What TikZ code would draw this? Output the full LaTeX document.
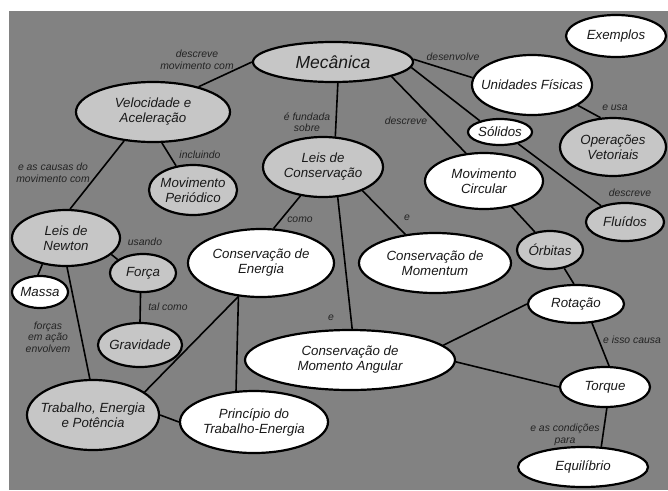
\documentclass[tikz,border=0pt]{standalone}
\usepackage{fontspec}
\setmainfont{Liberation Sans}
\usetikzlibrary{shapes.geometric}
\definecolor{bggray}{RGB}{130,130,130}
\definecolor{lgray}{RGB}{198,198,198}
\definecolor{ntext}{RGB}{25,25,25}
\definecolor{etext}{RGB}{35,35,35}
\tikzset{
  concept/.style={ellipse, draw=black, line width=2.2pt, inner sep=-10pt, align=center,
    text=ntext, font=\fontsize{13.3}{15}\selectfont\itshape},
  wnode/.style={concept, fill=white},
  gnode/.style={concept, fill=lgray},
  elabel/.style={align=center, text=etext, inner sep=0pt, font=\fontsize{10.4}{11.5}\selectfont\itshape},
  conn/.style={line width=1.6pt, draw=black}
}
\begin{document}
\begin{tikzpicture}[x=1pt,y=-1pt]
\useasboundingbox (0,0) rectangle (668,490);
\fill[white] (0,0) rectangle (668,490);
\fill[bggray] (9,11) rectangle (668,490);

% nodes
\node[gnode, minimum width=160pt, minimum height=40pt, font=\fontsize{17.5}{20}\selectfont\itshape] (mec) at (333,62) {Mecânica};
\node[wnode, minimum width=100pt, minimum height=42pt] (ex) at (616,36) {Exemplos};
\node[wnode, minimum width=120pt, minimum height=60pt] (uf) at (532,85) {Unidades Físicas};
\node[wnode, minimum width=64pt, minimum height=26pt] (sol) at (500,132) {Sólidos};
\node[gnode, minimum width=106pt, minimum height=58pt] (ov) at (613,147) {Operações\\Vetoriais};
\node[gnode, minimum width=78pt, minimum height=38pt] (flu) at (625,222) {Fluídos};
\node[wnode, minimum width=118pt, minimum height=56pt] (mc) at (484,181) {Movimento\\Circular};
\node[gnode, minimum width=66pt, minimum height=38pt] (orb) at (550,250) {Órbitas};
\node[wnode, minimum width=96pt, minimum height=38pt] (rot) at (576,304) {Rotação};
\node[wnode, minimum width=90pt, minimum height=40pt] (tor) at (605,387) {Torque};
\node[wnode, minimum width=130pt, minimum height=40pt] (equ) at (583,467) {Equilíbrio};
\node[wnode, minimum width=210pt, minimum height=60pt] (cma) at (350,360) {Conservação de\\Momento Angular};
\node[wnode, minimum width=152pt, minimum height=60pt] (cm) at (435,263) {Conservação de\\Momentum};
\node[gnode, minimum width=120pt, minimum height=60pt] (lc) at (323,167) {Leis de\\Conservação};
\node[wnode, minimum width=146pt, minimum height=68pt] (ce) at (261,263) {Conservação de\\Energia};
\node[gnode, minimum width=154pt, minimum height=60pt] (va) at (153,112) {Velocidade e\\Aceleração};
\node[gnode, minimum width=88pt, minimum height=50pt] (mp) at (193,190) {Movimento\\Periódico};
\node[gnode, minimum width=108pt, minimum height=56pt] (ln) at (66,238) {Leis de\\Newton};
\node[gnode, minimum width=66pt, minimum height=38pt] (forca) at (143,273) {Força};
\node[wnode, minimum width=56pt, minimum height=32pt] (mas) at (40,292) {Massa};
\node[gnode, minimum width=84pt, minimum height=44pt] (gra) at (140,345) {Gravidade};
\node[gnode, minimum width=132pt, minimum height=70pt] (tep) at (93,415) {Trabalho, Energia\\e Potência};
\node[wnode, minimum width=148pt, minimum height=62pt] (pte) at (254,422) {Princípio do\\Trabalho-Energia};

% connectors
\draw[conn] (mec.180) -- (va.29);
\draw[conn] (mec.-77) -- (lc.68);
\draw[conn] (mec.-14) -- (mc.123);
\draw[conn] (mec.2) -- (uf.173);
\draw[conn] (mec.-4) -- (sol.151);
\draw[conn] (uf.-24) -- (ov.113);
\draw[conn] (sol.-33) -- (flu.146);
\draw[conn] (va.-74) -- (mp.125);
\draw[conn] (va.-135) -- (ln.82);
\draw[conn] (ln.-20) -- (forca.152);
\draw[conn] (ln.-132) -- (mas.97);
\draw[conn] (ln.-88) -- (tep.95);
\draw[conn] (forca.-97) -- (gra.90);
\draw[conn] (lc.-128) -- (ce.70);
\draw[conn] (lc.-31) -- (cm.136);
\draw[conn] (lc.-64) -- (cma.86);
\draw[conn] (mc.-43) -- (orb.130);
\draw[conn] (orb.-52) -- (rot.96);
\draw[conn] (rot.180) -- (cma.9);
\draw[conn] (rot.-50) -- (tor.79);
\draw[conn] (cma.-1) -- (tor.180);
\draw[conn] (tor.-85) -- (equ.48);
\draw[conn] (ce.-124) -- (tep.24);
\draw[conn] (ce.-124) -- (pte.120);
\draw[conn] (tep.0) -- (pte.180);

% connector labels
\node[elabel] (l1) at (197,60) {descreve\\movimento com};
\node[elabel] (l2) at (307,122) {é fundada\\sobre};
\node[elabel] (l3) at (406,121) {descreve};
\node[elabel] (l4) at (453,57) {desenvolve};
\node[elabel] (l5) at (630,193) {descreve};
\node[elabel] (l6) at (615,108) {e usa};
\node[elabel] (l7) at (200,155) {incluindo};
\node[elabel] (l8) at (53,173) {e as causas do\\movimento com};
\node[elabel] (l9) at (145,242) {usando};
\node[elabel] (l10) at (168,307) {tal como};
\node[elabel] (l11) at (48,337) {forças\\em ação\\envolvem};
\node[elabel] (l12) at (300,220) {como};
\node[elabel] (l13) at (407,218) {e};
\node[elabel] (l14) at (331,318) {e};
\node[elabel] (l15) at (632,340) {e isso causa};
\node[elabel] (l16) at (565,435) {e as condições\\para};
\end{tikzpicture}
\end{document}
